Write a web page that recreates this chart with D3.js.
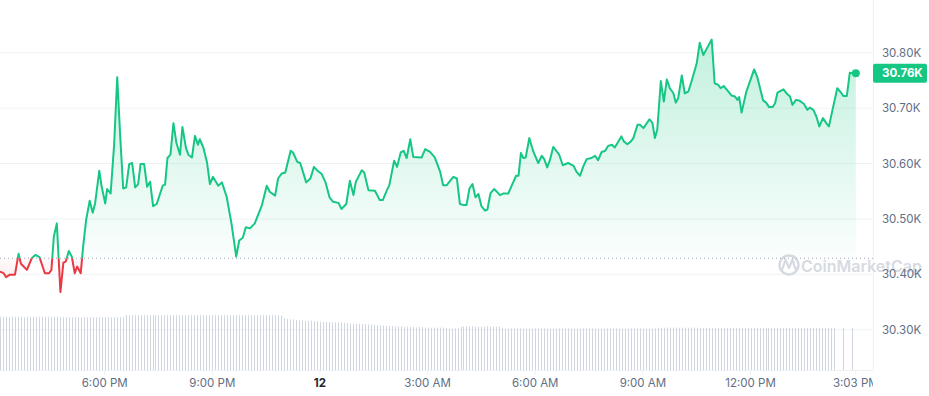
<!DOCTYPE html>
<html>
<head>
<meta charset="utf-8">
<script src="https://cdn.jsdelivr.net/npm/d3@7"></script>
<style>
html, body { margin: 0; padding: 0; background: #fff; }
svg { display: block; font-family: Inter, "Noto Sans", sans-serif; }
</style>
</head>
<body>
<svg id="chart" width="929" height="396"></svg>
<script>
// 24h window, 15:05 -> 15:03 next day
var startTime = new Date(2023, 9, 11, 15, 5);
var endTime = new Date(2023, 9, 12, 15, 3);
var openPrice = 30429;
var lastPriceLabel = "30.76K";

// minutes after startTime
var priceMinutes = [
	0,6,10,16,25,31,35,45,53,59,
	66,75,82,86,90,95,97,101,106,110,
	115,120,125,129,135,139,144,150,155,159,
	166,170,176,179,185,191,196,201,206,211,
	216,221,226,231,235,241,246,251,256,262,
	266,272,276,280,285,290,295,301,305,311,
	315,321,326,331,334,340,346,351,356,365,
	371,379,387,395,400,406,411,418,426,438,
	446,451,460,465,471,477,486,490,497,502,
	512,519,525,530,538,544,551,557,566,571,
	579,585,591,595,605,609,616,627,635,640,
	647,651,659,664,670,675,680,686,691,705,
	711,719,727,736,741,747,758,764,769,776,
	780,785,790,795,800,805,811,815,820,826,
	831,836,842,850,856,863,867,871,875,879,
	885,892,900,906,910,915,920,925,935,941,
	950,959,964,970,975,981,989,995,1000,1006,
	1012,1017,1023,1028,1039,1043,1049,1055,1059,1066,
	1070,1076,1086,1091,1095,1099,1105,1110,1115,1120,
	1126,1130,1134,1140,1145,1151,1157,1165,1170,1176,
	1182,1190,1195,1201,1205,1210,1218,1223,1229,1233,
	1236,1240,1248,1261,1266,1276,1281,1286,1292,1296,
	1300,1310,1315,1321,1325,1331,1336,1344,1350,1354,
	1360,1365,1370,1376,1381,1386,1392,1400,1407,1410,
	1416,1421,1426,1431
];

var prices = [
	30405,30402,30395,30399,30399,30437,30419,30408,30429,30435,
	30431,30402,30402,30408,30468,30492,30450,30368,30421,30423,
	30442,30432,30402,30414,30402,30450,30498,30533,30511,30528,
	30587,30558,30528,30554,30546,30637,30756,30649,30555,30557,
	30599,30601,30557,30563,30599,30599,30558,30567,30523,30527,
	30540,30560,30562,30610,30616,30673,30637,30616,30666,30628,
	30616,30611,30650,30634,30644,30629,30603,30563,30576,30560,
	30566,30540,30492,30432,30461,30466,30485,30483,30492,30525,
	30560,30549,30542,30573,30582,30584,30623,30620,30603,30601,
	30566,30573,30594,30588,30581,30567,30539,30531,30529,30518,
	30527,30569,30543,30567,30588,30584,30552,30551,30534,30534,
	30552,30561,30605,30594,30620,30623,30610,30644,30612,30611,
	30626,30621,30611,30585,30561,30561,30576,30573,30527,30525,
	30525,30555,30563,30539,30545,30523,30515,30517,30546,30554,
	30549,30543,30546,30546,30561,30578,30578,30619,30610,30611,
	30646,30621,30601,30614,30608,30593,30608,30630,30616,30597,
	30601,30596,30585,30578,30594,30608,30610,30614,30606,30621,
	30623,30632,30634,30629,30649,30640,30635,30640,30646,30670,
	30670,30664,30680,30673,30646,30661,30749,30712,30752,30736,
	30727,30710,30718,30759,30727,30730,30751,30781,30818,30796,
	30808,30824,30745,30742,30736,30740,30730,30723,30721,30715,
	30720,30692,30730,30770,30757,30714,30710,30702,30702,30709,
	30728,30734,30727,30721,30706,30715,30714,30708,30697,30701,
	30697,30685,30667,30682,30674,30667,30697,30736,30727,30722,
	30722,30764,30763,30763
];

// volume in billions, one bar per 5 min, plus two late bars
var volumes = [
	13.3,13.3,13.3,13.2,13.3,13.3,13.3,13.3,13.2,13.3,13.3,13.3,13.3,13.3,13.2,13.3,13.3,13.3,13.3,13.3,
	13.2,13.2,13.2,13.2,13.2,13.2,13.2,13.1,13.2,13.2,13.2,13.2,13.2,13.2,13.2,13.2,13.2,13.2,13.2,13.2,
	13.2,13.2,13.7,13.7,13.7,13.7,13.7,13.7,13.7,13.7,13.7,13.7,13.7,13.7,13.7,13.7,13.7,13.7,13.7,13.7,
	13.7,13.7,13.7,13.7,13.7,13.7,13.7,13.7,13.7,13.7,13.7,13.7,13.7,13.7,13.7,13.7,13.7,13.7,13.7,13.7,
	13.7,13.7,13.7,13.7,13.7,13.7,13.7,13.7,13.7,13.7,13.7,13.7,13.7,13.7,13.6,13.0,12.8,12.7,12.6,12.5,
	12.4,12.4,12.3,12.3,12.3,12.2,12.2,12.1,12.0,12.0,12.0,11.9,11.9,11.9,11.8,11.8,11.7,11.6,11.6,11.6,
	11.5,11.5,11.4,11.4,11.3,11.3,11.2,11.1,11.1,11.0,11.0,11.0,10.9,10.9,10.9,10.8,10.8,10.8,10.7,10.7,
	10.7,10.7,10.6,10.6,10.6,10.6,10.6,10.6,10.6,10.5,10.4,10.4,10.4,10.4,10.8,10.9,10.9,10.9,10.9,10.9,
	10.9,10.9,10.9,10.9,10.8,10.8,10.8,10.8,10.5,10.4,10.4,10.4,10.4,10.4,10.4,10.4,10.4,10.4,10.4,10.4,
	10.4,10.4,10.4,10.4,10.4,10.4,10.4,10.4,10.4,10.4,10.4,10.4,10.4,10.4,10.4,10.4,10.4,10.4,10.4,10.4,
	10.4,10.4,10.4,10.4,10.4,10.4,10.4,10.4,10.4,10.4,10.4,10.4,10.4,10.4,10.4,10.4,10.4,10.4,10.4,10.4,
	10.5,10.6,10.6,10.6,10.6,10.6,10.6,10.6,10.6,10.6,10.6,10.6,10.6,10.6,10.5,10.5,10.5,10.5,10.5,10.5,
	10.5,10.5,10.5,10.5,10.5,10.5,10.5,10.5,10.5,10.5,10.5,10.5,10.5,10.5,10.5,10.5,10.5,10.5,10.5,10.5,
	10.5,10.5,10.5,10.5,10.5,10.5,10.5,10.5,10.5,10.5,10.5,10.5,10.5,10.5,10.5,10.5,10.5,10.5,10.5,10.5,
	10.5,10.5
];
var volumeMinutes = d3.range(280).map(function(i) { return i * 5; }).concat([1410, 1425]);

var priceTicks = [30300, 30400, 30500, 30600, 30700, 30800];
var timeTicks = [
	new Date(2023, 9, 11, 18, 0),
	new Date(2023, 9, 11, 21, 0),
	new Date(2023, 9, 12, 0, 0),
	new Date(2023, 9, 12, 3, 0),
	new Date(2023, 9, 12, 6, 0),
	new Date(2023, 9, 12, 9, 0),
	new Date(2023, 9, 12, 12, 0),
	new Date(2023, 9, 12, 14, 56)
];
var timeLabels = ["6:00 PM", "9:00 PM", "12", "3:00 AM", "6:00 AM", "9:00 AM", "12:00 PM", "3:03 PM"];


var GREEN = "#16c784";
var RED = "#ea3943";
var GRID = "#eff2f5";
var TEXT = "#616e85";
var PLOT_RIGHT = 873;
var PLOT_BOTTOM = 370;

function minToDate(m) {
	return new Date(startTime.getTime() + m * 60000);
}

var data = d3.zip(priceMinutes, prices).map(function(d) {
	return { t: minToDate(d[0]), v: d[1] };
});
var volData = d3.zip(volumeMinutes, volumes).map(function(d) {
	return { t: minToDate(d[0]), v: d[1] };
});

var svg = d3.select("#chart");

var x = d3.scaleTime().domain([startTime, endTime]).range([0, 860]);
var y = d3.scaleLinear().domain([30300, 30800]).range([329.7, 52.8]);
var vy = d3.scaleLinear().domain([0, 14]).range([PLOT_BOTTOM, 314]);
var yBase = y(openPrice);

var defs = svg.append("defs");

var gUp = defs.append("linearGradient").attr("id", "gUp")
	.attr("gradientUnits", "userSpaceOnUse")
	.attr("x1", 0).attr("x2", 0)
	.attr("y1", y(d3.max(prices))).attr("y2", yBase);
gUp.append("stop").attr("offset", 0).attr("stop-color", GREEN).attr("stop-opacity", 0.26);
gUp.append("stop").attr("offset", 1).attr("stop-color", GREEN).attr("stop-opacity", 0.02);

var gDown = defs.append("linearGradient").attr("id", "gDown")
	.attr("gradientUnits", "userSpaceOnUse")
	.attr("x1", 0).attr("x2", 0)
	.attr("y1", yBase).attr("y2", y(d3.min(prices)));
gDown.append("stop").attr("offset", 0).attr("stop-color", RED).attr("stop-opacity", 0.02);
gDown.append("stop").attr("offset", 1).attr("stop-color", RED).attr("stop-opacity", 0.14);

defs.append("clipPath").attr("id", "clipUp").append("rect")
	.attr("x", 0).attr("y", 0).attr("width", PLOT_RIGHT).attr("height", yBase);
defs.append("clipPath").attr("id", "clipDown").append("rect")
	.attr("x", 0).attr("y", yBase).attr("width", PLOT_RIGHT).attr("height", PLOT_BOTTOM - yBase);
defs.append("clipPath").attr("id", "clipAxis").append("rect")
	.attr("x", 0).attr("y", 0).attr("width", PLOT_RIGHT).attr("height", 396);

// grid
svg.append("g").selectAll("line").data(priceTicks).enter().append("line")
	.attr("x1", 0).attr("x2", PLOT_RIGHT)
	.attr("y1", function(d) { return y(d); }).attr("y2", function(d) { return y(d); })
	.attr("stroke", GRID).attr("stroke-width", 1);

svg.append("line")
	.attr("x1", PLOT_RIGHT + 0.5).attr("x2", PLOT_RIGHT + 0.5)
	.attr("y1", 0).attr("y2", PLOT_BOTTOM)
	.attr("stroke", GRID);
svg.append("line")
	.attr("x1", 0).attr("x2", PLOT_RIGHT)
	.attr("y1", PLOT_BOTTOM + 0.5).attr("y2", PLOT_BOTTOM + 0.5)
	.attr("stroke", GRID);

// volume bars
svg.append("g").selectAll("line").data(volData).enter().append("line")
	.attr("x1", function(d) { return Math.round(x(d.t)) + 0.5; })
	.attr("x2", function(d) { return Math.round(x(d.t)) + 0.5; })
	.attr("y1", PLOT_BOTTOM)
	.attr("y2", function(d) { return vy(d.v); })
	.attr("stroke", "#cfd6e2").attr("stroke-width", 1);

// watermark
var wm = svg.append("g").attr("opacity", 0.9);
wm.append("circle").attr("cx", 789).attr("cy", 265).attr("r", 9.5)
	.attr("fill", "none").attr("stroke", "#d3d7de").attr("stroke-width", 2.4);
wm.append("path")
	.attr("d", "M782,270 L785.5,259.5 L789,268 L792.5,259.5 L795,268 Q796,270 797.5,267.5")
	.attr("fill", "none").attr("stroke", "#d3d7de").attr("stroke-width", 2.2)
	.attr("stroke-linejoin", "round").attr("stroke-linecap", "round");
wm.append("text").attr("x", 801).attr("y", 266)
	.attr("dominant-baseline", "central")
	.attr("font-size", 16).attr("font-weight", 600)
	.attr("fill", "#d3d7de")
	.text("CoinMarketCap");

// price area + line, split at the open price
var area = d3.area()
	.x(function(d) { return x(d.t); })
	.y0(yBase)
	.y1(function(d) { return y(d.v); });
var line = d3.line()
	.x(function(d) { return x(d.t); })
	.y(function(d) { return y(d.v); });

svg.append("path").datum(data).attr("clip-path", "url(#clipUp)")
	.attr("d", area).attr("fill", "url(#gUp)");
svg.append("path").datum(data).attr("clip-path", "url(#clipDown)")
	.attr("d", area).attr("fill", "url(#gDown)");

svg.append("line")
	.attr("x1", 0).attr("x2", PLOT_RIGHT)
	.attr("y1", yBase).attr("y2", yBase)
	.attr("stroke", "#a1a7bb").attr("stroke-width", 1)
	.attr("stroke-dasharray", "1,3");

svg.append("path").datum(data).attr("clip-path", "url(#clipUp)")
	.attr("d", line).attr("fill", "none").attr("stroke", GREEN)
	.attr("stroke-width", 2).attr("stroke-linejoin", "round");
svg.append("path").datum(data).attr("clip-path", "url(#clipDown)")
	.attr("d", line).attr("fill", "none").attr("stroke", RED)
	.attr("stroke-width", 2).attr("stroke-linejoin", "round");

var last = data[data.length - 1];
svg.append("circle")
	.attr("cx", x(last.t)).attr("cy", y(last.v)).attr("r", 4)
	.attr("fill", GREEN);

// y axis labels
svg.append("g").selectAll("text").data(priceTicks).enter().append("text")
	.attr("x", 882)
	.attr("y", function(d) { return y(d); })
	.attr("dominant-baseline", "central")
	.attr("font-size", 11.5)
	.attr("fill", TEXT)
	.text(function(d) { return d3.format(".2f")(d / 1000) + "K"; });

// current price tag
svg.append("rect")
	.attr("x", PLOT_RIGHT).attr("y", y(last.v) - 9.5)
	.attr("width", 54).attr("height", 19).attr("rx", 2)
	.attr("fill", GREEN);
svg.append("text")
	.attr("x", 882).attr("y", y(last.v))
	.attr("dominant-baseline", "central")
	.attr("font-size", 11.5).attr("font-weight", 700)
	.attr("fill", "#fff")
	.text(lastPriceLabel);

// x axis
var xAxis = svg.append("g").attr("clip-path", "url(#clipAxis)");
xAxis.selectAll("line").data(timeTicks).enter().append("line")
	.attr("x1", function(d) { return x(d); }).attr("x2", function(d) { return x(d); })
	.attr("y1", PLOT_BOTTOM).attr("y2", PLOT_BOTTOM + 5)
	.attr("stroke", GRID);
xAxis.selectAll("text").data(timeTicks).enter().append("text")
	.attr("x", function(d) { return x(d); })
	.attr("y", 383)
	.attr("text-anchor", "middle")
	.attr("dominant-baseline", "central")
	.attr("font-size", 11.5)
	.attr("font-weight", function(d, i) { return timeLabels[i] === "12" ? 700 : 400; })
	.attr("fill", function(d, i) { return timeLabels[i] === "12" ? "#222531" : TEXT; })
	.text(function(d, i) { return timeLabels[i]; });
</script>
</body>
</html>
